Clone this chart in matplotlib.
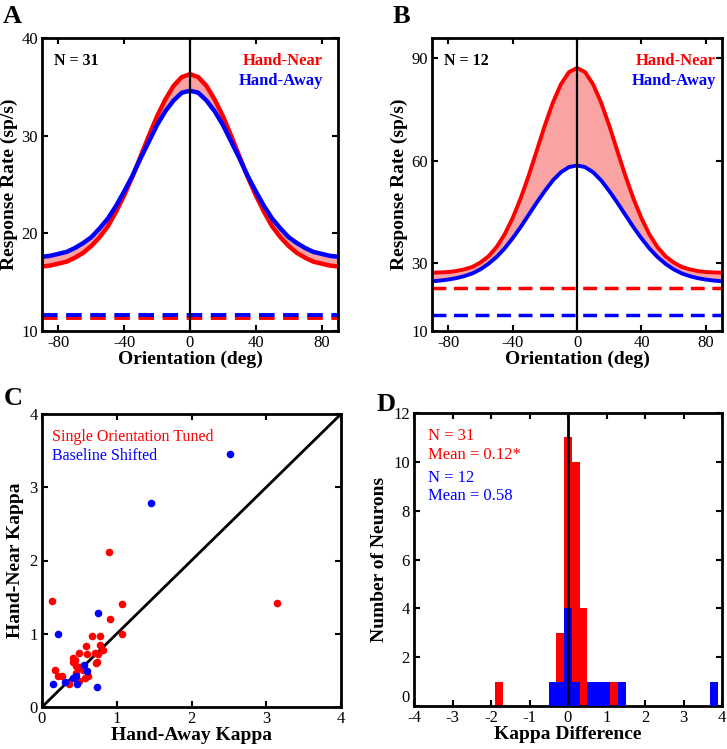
import matplotlib
matplotlib.use("Agg")
import matplotlib.pyplot as plt
import matplotlib.transforms as mtransforms
import numpy as np

plt.rcParams['font.family'] = ['Liberation Serif', 'DejaVu Serif']
plt.rcParams['axes.unicode_minus'] = False

# ---------------- data ----------------
orientation = [-90, -85, -80, -75, -70, -65, -60, -55, -50, -45, -40, -35, -30, -25, -20, -15, -10, -5,
               0, 5, 10, 15, 20, 25, 30, 35, 40, 45, 50, 55, 60, 65, 70, 75, 80, 85, 90]

a_near = [16.6, 16.7, 16.9, 17.1, 17.5, 18.0, 18.7, 19.6, 20.7, 22.2, 23.9, 25.8, 27.9, 30.0, 32.0, 33.7, 35.1, 36.0,
          36.3, 36.0, 35.1, 33.7, 32.0, 30.0, 27.9, 25.8, 23.9, 22.2, 20.7, 19.6, 18.7, 18.0, 17.5, 17.1, 16.9, 16.7, 16.6]
a_away = [17.6, 17.7, 17.9, 18.1, 18.5, 19.0, 19.6, 20.5, 21.5, 22.8, 24.3, 25.9, 27.7, 29.4, 31.1, 32.5, 33.6, 34.4,
          34.6, 34.4, 33.6, 32.5, 31.1, 29.4, 27.7, 25.9, 24.3, 22.8, 21.5, 20.5, 19.6, 19.0, 18.5, 18.1, 17.9, 17.7, 17.6]
a_base_near = 11.3
a_base_away = 11.65

b_near = [27.1, 27.2, 27.3, 27.6, 28.1, 28.8, 30.1, 31.9, 34.6, 38.3, 43.1, 48.9, 55.6, 62.9, 70.3, 77.0, 82.4, 86.0,
          87.2, 86.0, 82.4, 77.0, 70.3, 62.9, 55.6, 48.9, 43.1, 38.3, 34.6, 31.9, 30.1, 28.8, 28.1, 27.6, 27.3, 27.2, 27.1]
b_away = [24.6, 24.8, 25.1, 25.5, 26.1, 26.9, 28.1, 29.7, 31.7, 34.2, 37.2, 40.5, 44.1, 47.7, 51.1, 54.2, 56.6, 58.1,
          58.6, 58.1, 56.6, 54.2, 51.1, 47.7, 44.1, 40.5, 37.2, 34.2, 31.7, 29.7, 28.1, 26.9, 26.1, 25.5, 25.1, 24.8, 24.6]
b_base_near = 22.7
b_base_away = 14.8

# panel C: kappa values (hand-away, hand-near)
tuned_away = [0.14, 0.89, 3.15, 1.07, 0.91, 0.67, 0.78, 1.07, 0.59, 0.77, 0.49, 0.60, 0.71, 0.82, 0.41, 0.42,
              0.45, 0.51, 0.73, 0.18, 0.22, 0.27, 0.46, 0.58, 0.62, 0.36, 0.49, 0.75, 0.72, 0.44, 0.55]
tuned_near = [1.45, 2.11, 1.42, 1.40, 1.20, 0.97, 0.97, 0.99, 0.83, 0.85, 0.74, 0.72, 0.74, 0.78, 0.67, 0.62,
              0.56, 0.55, 0.62, 0.51, 0.43, 0.43, 0.46, 0.39, 0.43, 0.32, 0.35, 0.72, 0.60, 0.64, 0.50]
shift_away = [2.51, 1.46, 0.745, 0.22, 0.56, 0.60, 0.42, 0.31, 0.15, 0.47, 0.74, 0.45]
shift_near = [3.46, 2.79, 1.28, 1.00, 0.58, 0.49, 0.40, 0.34, 0.31, 0.31, 0.27, 0.42]

# panel D: histogram of kappa difference (bin centres, counts)
red_centers = [-1.8, -0.2, 0.0, 0.2, 0.4, 1.2, 1.4]
red_counts = [1, 3, 11, 10, 4, 1, 1]
blue_centers = [-0.4, -0.2, 0.0, 0.2, 0.6, 0.8, 1.0, 1.4, 3.8]
blue_counts = [1, 1, 4, 1, 1, 1, 1, 1, 1]
bin_width = 0.2

RED = '#FF0000'
BLUE = '#0000FF'
PINK = '#F9A3A3'

W, H = 727, 749
fig = plt.figure(figsize=(W / 100, H / 100), dpi=100)


def px_axes(l, t, r, b):
    return fig.add_axes([l / W, 1 - b / H, (r - l) / W, (b - t) / H])


def style(ax):
    for s in ax.spines.values():
        s.set_linewidth(2.0)
    ax.tick_params(direction='in', length=4, width=1.5, top=True, right=True,
                   labelsize=12, pad=3)


lab_kw = dict(fontsize=14, fontweight='bold')
line_kw = dict(solid_joinstyle='round', solid_capstyle='butt')

# ---------------- Panel A ----------------
axA = px_axes(42, 38, 338, 331)
axA.fill_between(orientation, a_near, a_away, color=PINK, lw=0)
axA.plot(orientation, a_near, color=RED, lw=3.2, **line_kw)
axA.plot(orientation, a_away, color=BLUE, lw=3.2, **line_kw)
axA.axhline(a_base_near, color=RED, lw=2.8, ls=(0, (4, 2.2)))
axA.axhline(a_base_away, color=BLUE, lw=2.8, ls=(0, (4, 2.2)))
axA.axvline(0, color='black', lw=1.6)
axA.set_xlim(-90, 90)
axA.set_ylim(10, 40)
axA.set_xticks([-80, -40, 0, 40, 80])
axA.set_yticks([10, 20, 30, 40])
style(axA)
axA.set_xlabel('Orientation (deg)', labelpad=0, **lab_kw)
axA.set_ylabel('Response Rate (sp/s)', labelpad=2, **lab_kw)
axA.text(0.04, 0.95, 'N = 31', transform=axA.transAxes, fontsize=11.5, fontweight='bold', va='top', ha='left')
axA.text(0.95, 0.95, 'Hand-Near', transform=axA.transAxes, fontsize=12, fontweight='bold', va='top', ha='right', color=RED)
axA.text(0.95, 0.88, 'Hand-Away', transform=axA.transAxes, fontsize=12, fontweight='bold', va='top', ha='right', color=BLUE)

# ---------------- Panel B ----------------
axB = px_axes(432, 38, 722, 331)
axB.fill_between(orientation, b_near, b_away, color=PINK, lw=0)
axB.plot(orientation, b_near, color=RED, lw=2.8, **line_kw)
axB.plot(orientation, b_away, color=BLUE, lw=2.8, **line_kw)
axB.axhline(b_base_near, color=RED, lw=2.5, ls=(0, (4, 2.2)))
axB.axhline(b_base_away, color=BLUE, lw=2.5, ls=(0, (4, 2.2)))
axB.axvline(0, color='black', lw=1.6)
axB.set_xlim(-90, 90)
axB.set_ylim(10, 96)
axB.set_xticks([-80, -40, 0, 40, 80])
axB.set_yticks([10, 30, 60, 90])
style(axB)
axB.set_xlabel('Orientation (deg)', labelpad=0, **lab_kw)
axB.set_ylabel('Response Rate (sp/s)', labelpad=2, **lab_kw)
axB.text(0.04, 0.95, 'N = 12', transform=axB.transAxes, fontsize=11.5, fontweight='bold', va='top', ha='left')
axB.text(0.98, 0.95, 'Hand-Near', transform=axB.transAxes, fontsize=12, fontweight='bold', va='top', ha='right', color=RED)
axB.text(0.98, 0.88, 'Hand-Away', transform=axB.transAxes, fontsize=12, fontweight='bold', va='top', ha='right', color=BLUE)

# ---------------- Panel C ----------------
axC = px_axes(42, 414, 341, 707)
axC.plot([0, 4], [0, 4], color='black', lw=2.0)
axC.scatter(tuned_away, tuned_near, s=30, color=RED, lw=0, zorder=3)
axC.scatter(shift_away, shift_near, s=30, color=BLUE, lw=0, zorder=4)
axC.set_xlim(0, 4)
axC.set_ylim(0, 4)
axC.set_xticks([0, 1, 2, 3, 4])
axC.set_yticks([0, 1, 2, 3, 4])
style(axC)
axC.set_xlabel('Hand-Away Kappa', labelpad=0, **lab_kw)
axC.set_ylabel('Hand-Near Kappa', labelpad=4, **lab_kw)
axC.text(0.035, 0.95, 'Single Orientation Tuned', transform=axC.transAxes, fontsize=11.5, va='top', ha='left', color=RED)
axC.text(0.035, 0.885, 'Baseline Shifted', transform=axC.transAxes, fontsize=11.5, va='top', ha='left', color=BLUE)

# ---------------- Panel D ----------------
axD = px_axes(414, 413, 722, 706)
axD.bar(red_centers, red_counts, width=bin_width, color=RED, lw=0, zorder=2)
axD.bar(blue_centers, blue_counts, width=bin_width, color=BLUE, lw=0, zorder=3)
axD.axvline(0, color='black', lw=2.0, zorder=4)
axD.set_xlim(-4, 4)
axD.set_ylim(0, 12)
axD.set_xticks([-4, -3, -2, -1, 0, 1, 2, 3, 4])
axD.set_yticks([0, 2, 4, 6, 8, 10, 12])
style(axD)
axD.set_xlabel('Kappa Difference', labelpad=0, **lab_kw)
axD.set_ylabel('Number of Neurons', labelpad=4, **lab_kw)
axD.text(0.045, 0.95, 'N = 31', transform=axD.transAxes, fontsize=12, va='top', ha='left', color=RED)
axD.text(0.045, 0.885, 'Mean = 0.12*', transform=axD.transAxes, fontsize=12, va='top', ha='left', color=RED)
axD.text(0.045, 0.805, 'N = 12', transform=axD.transAxes, fontsize=12, va='top', ha='left', color=BLUE)
axD.text(0.045, 0.745, 'Mean = 0.58', transform=axD.transAxes, fontsize=12, va='top', ha='left', color=BLUE)
# the "0" count label sits slightly above the bottom axis, as in the reference
zero_lbl = axD.get_yticklabels()[0]
zero_lbl.set_transform(zero_lbl.get_transform() + mtransforms.ScaledTranslation(0, 10 / 100, fig.dpi_scale_trans))

# ---------------- panel letters ----------------
for lbl, x, y in [('A', 3, 5), ('B', 393, 5), ('C', 4, 387), ('D', 377, 393)]:
    fig.text(x / W, 1 - y / H, lbl, fontsize=19, fontweight='bold', va='top', ha='left')

fig.savefig('out.png', dpi=100)
